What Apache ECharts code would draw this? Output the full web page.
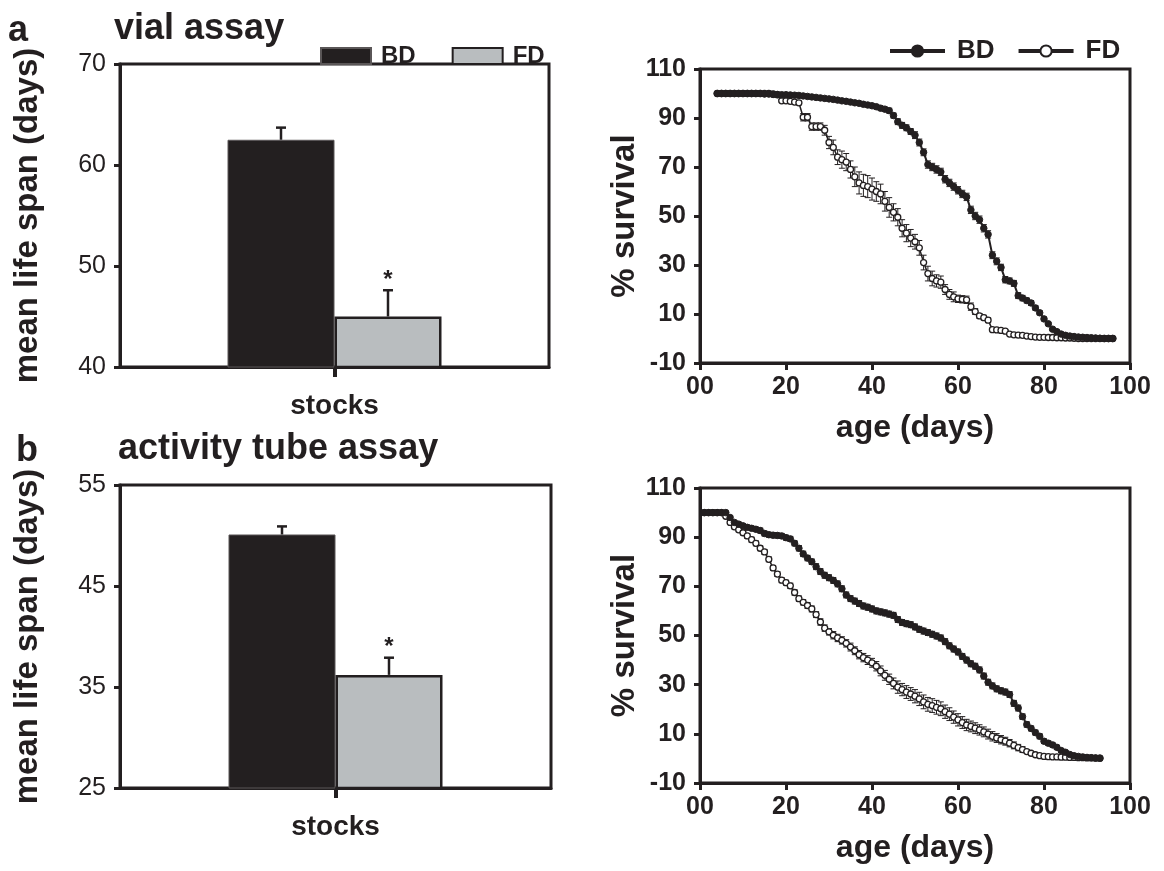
<!DOCTYPE html>
<html><head><meta charset="utf-8">
<script src="https://cdn.jsdelivr.net/npm/echarts@6/dist/echarts.min.js"></script>
<style>html,body{margin:0;padding:0;background:#fff}#c{width:1164px;height:871px}</style>
</head><body><div id="c"></div>
<script>
// ---------- data ----------
const groups = ['BD', 'FD'];
const barCategory = ['stocks'];
// panel a (vial assay) mean life span and SEM
const meanA = [62.5, 45.0];
const semA = [1.2, 2.6];
// panel b (activity tube assay)
const meanB = [50.1, 36.2];
const semB = [0.8, 1.7];
const sigA = [0, 1];
const sigB = [0, 1];

const barTicksA = [40, 50, 60, 70];
const barTicksB = [25, 35, 45, 55];
const survTicksY = [-10, 10, 30, 50, 70, 90, 110];
const survTicksX = [0, 20, 40, 60, 80, 100];

// survival curves, panel a: census days 4..96
const startA = 4, endA = 96;
const bdA = [100,100,100,100,100,100,100,100,100,100,100,
 99.8,99.8,99.6,99.6,99.5,99.5,99.4,99.3,99.2,99,
 98.8,98.6,98.4,98.2,98,97.8,97.6,97.3,97,96.8,
 96.5,96.2,96,95.6,95.3,95,94.6,94,93.6,93,
 91,88.5,87,86,84.5,83,80,76,71,70,
 69,68,65,63.5,62,60.5,59,57.8,52.5,50,
 48.5,45,42.5,34,31.5,29,24,23.5,22.5,17.5,
 16.5,15.5,14.5,12.5,10.5,8,6,3.8,2.8,1.8,
 1.3,1,0.8,0.6,0.5,0.4,0.3,0.2,0.1,0,0,0];
const fdA = [100,100,100,100,100,100,100,100,100,100,100,100,100,
 99.8,99.5,97,97,96.8,96.5,96.2,90.3,90.3,86.5,
 86.5,86.5,85,80,78,74,73,72,69,66,
 63.5,62.5,62,61,60,59,56,53.5,51.5,49.5,
 45,43,41,39.5,37,31,26.5,24.5,23.5,23,
 20,18,17,16.2,16,15.8,13,11,9.2,8.5,
 7.5,3.6,3.5,3.3,3,1.8,1.5,1.4,1.3,1,
 0.8,0.6,0.5,0.5,0.4,0.4,0.3,0.3,0.2,0.2,
 0.1,0,0,0,0,0,0,0,0,0];
const bdErrA = [0.3,0.3,0.3,0.3,0.3,0.3,0.3,0.3,0.3,0.3,0.3,0.3,0.3,0.3,0.3,0.3,0.3,0.3,0.3,0.3,
 0.4,0.4,0.4,0.4,0.4,0.5,0.5,0.5,0.5,0.5,0.6,0.6,0.6,0.6,0.7,0.7,0.7,0.8,0.8,0.8,
 1,1,1.2,1.2,1.2,1.2,1.4,1.4,1.4,1.5,1.5,1.5,1.5,1.5,1.5,1.5,1.5,1.5,1.5,1.5,
 1.5,1.5,1.5,1.5,1.4,1.4,1.3,1.3,1.2,1.2,1.2,1.1,1,1,0.9,0.8,0.7,
 0.5,0.4,0.3,0.3,0.3,0.3,0.3,0.2,0.2,0.2,0.2,0.2,0.2,0.2,0.2];
const fdErrA = [0.3,0.3,0.3,0.3,0.3,0.3,0.3,0.3,0.3,0.3,0.3,0.3,0.3,0.3,0.4,0.5,0.5,0.6,0.6,
 0.8,1.5,1.5,1.5,1.5,1.5,2,2.5,3,3,3.5,3.5,3.5,4,4.5,4.5,4.5,4.5,4,4,4,4,
 3.5,3.5,3.5,3.5,3.5,3,3,3,3,3,2.5,2.5,2,2,2,1.5,1.5,1.5,1.5,1.2,1,1,1,0.6,
 0.4,0.4,0.4,0.3,0.3,0.3,0.3,0.3,0.3,0.3,0.2,0.2,0.2,0.2,0.2,0.2,0.2,0.2,0.2,0.2,0.2,0.2,0.2,0.2,0.2,0.2,0.2,0.2];

// survival curves, panel b: census days 1..93
const startB = 1, endB = 93;
const bdB = [100,100,100,100,100,100,
 98,96,95.3,94.6,94,93.6,93.2,92.7,91.5,91,90.8,90.7,90.5,89.8,
 89.3,87.5,85.5,83.2,81.5,80,78,76,74.5,73.5,72.4,71,69,66.5,
 65,64,63,62,61.5,60.8,60,59.6,59.2,58.7,58.2,56.5,55.3,54.8,
 54.4,53.5,52.5,51.8,51.2,50.5,49.8,49,47.5,45.8,44.5,43.3,41.5,40,
 38.5,37.5,36,33.5,31,29.5,28.3,27.5,27,26,22.4,20.5,17,13.8,
 12.2,10.5,9,7,6.2,5.5,4.5,3.2,2.5,1.6,1.1,0.8,0.6,0.4,0.3,0.2,0.1];
const fdB = [100,100,100,100,100,
 98.5,96,94.2,93,91.8,90.5,89,87.5,85.5,84,81,77.5,75,72.5,71.5,
 70.2,67.5,65,63.5,62.2,60.8,58.5,55.5,53,51.5,50.1,49,48,46.8,45.3,
 43.8,42.2,41,40,38.9,37.5,35.6,33.8,32.2,30.5,29,28,27,26.2,25.3,
 24.2,23,22,21.5,20.8,20.2,19,18,16.8,15.7,14.6,13.6,13,12.3,11.6,
 10.8,9.9,9,8.3,7.6,7,6.2,5.3,4.4,3.6,2.8,2.1,1.5,1.1,0.8,
 0.7,0.6,0.6,0.5,0.5,0.4,0.4,0.3,0.3,0.2,0.2,0.1,0.1];
const bdErrB = [0.2,0.2,0.2,0.2,0.2,0.2,
 0.6,0.8,0.8,0.8,0.9,0.9,0.9,1,1,1,1,1,1,1,1,1,1.1,1.1,1.1,1.1,1.2,1.2,1.2,1.2,
 1.2,1.2,1.2,1.2,1.2,1.2,1.2,1.2,1.2,1.2,1.2,1.2,1.2,1.2,1.2,1.2,1.2,1.2,1.2,1.2,
 1.2,1.2,1.2,1.2,1.2,1.2,1.2,1.2,1.2,1.2,1.2,1.2,1.2,1.2,1.2,1.2,1.2,1.2,1.2,1.2,
 1.2,1.2,1.2,1.2,1.1,1.1,1,1,1,0.9,0.9,0.8,0.8,0.7,0.6,0.4,0.3,0.3,0.3,0.2,0.2,0.2,0.2];
const fdErrB = [0.2,0.2,0.2,0.2,0.2,0.4,0.6,0.8,0.8,0.9,
 1,1,1,1,1,1,1,1,1,1,1.1,1.1,1.1,1.1,1.2,1.2,1.2,1.3,1.3,1.3,
 1.5,1.5,1.5,1.5,1.6,1.6,1.7,1.7,1.8,1.8,1.9,2,2,2.1,2.2,
 2.5,2.5,2.6,2.6,2.7,2.7,2.8,2.8,2.8,2.8,2.8,2.7,2.6,2.5,2.5,
 2.4,2.3,2.2,2.2,2.1,2,2,1.9,1.8,1.7,1.6,1.5,1.4,1.3,1.2,
 0.8,0.6,0.5,0.4,0.3,0.3,0.3,0.2,0.2,0.2,0.2,0.2,0.2,0.2,0.2,0.2,0.2,0.2];

// ---------- helpers ----------
const INK = '#231f20';
const BAR_W = 107;
function range(a, b) { const r = []; for (let d = a; d <= b; d++) r.push(d); return r; }
const daysA = range(startA, endA);
const daysB = range(startB, endB);
const pairs = (days, vals) => days.map((d, i) => [d, vals[i]]);
const errPairs = (days, vals, errs) => days.map((d, i) => [d, vals[i] - errs[i], vals[i] + errs[i]]);

function survErr(params, api) {
  const x = api.value(0);
  const p1 = api.coord([x, api.value(1)]);
  const p2 = api.coord([x, api.value(2)]);
  const w = 3, st = { stroke: INK, lineWidth: 1 };
  return { type: 'group', children: [
    { type: 'line', shape: { x1: p1[0], y1: p1[1], x2: p2[0], y2: p2[1] }, style: st },
    { type: 'line', shape: { x1: p1[0] - w, y1: p1[1], x2: p1[0] + w, y2: p1[1] }, style: st },
    { type: 'line', shape: { x1: p2[0] - w, y1: p2[1], x2: p2[0] + w, y2: p2[1] }, style: st }
  ]};
}
function barErr(params, api) {
  const mean = api.value(1), sem = api.value(2), side = api.value(3), star = api.value(4);
  const b = api.coord([0, mean]);
  const t = api.coord([0, mean + sem]);
  const x = b[0] + side * BAR_W / 2;
  const st = { stroke: INK, lineWidth: 2.5 };
  const ch = [
    { type: 'line', shape: { x1: x, y1: b[1], x2: x, y2: t[1] }, style: st },
    { type: 'line', shape: { x1: x - 5, y1: t[1], x2: x + 5, y2: t[1] }, style: st }
  ];
  if (star) ch.push({ type: 'text', x: x, y: t[1] + 2, style: { text: '*', fill: INK, font: 'bold 24px "Liberation Sans", Arial, sans-serif', align: 'center', verticalAlign: 'bottom' } });
  return { type: 'group', children: ch };
}
const barErrData = (means, sems, sig) => means.map((m, i) => [0, m, sems[i], i === 0 ? -1 : 1, sig[i]]);

const FONT = '"Liberation Sans", Arial, sans-serif';
const gridBase = { show: true, borderColor: INK, borderWidth: 3, outerBoundsMode: 'none' };
const axisLineSt = { show: true, onZero: false, lineStyle: { color: INK, width: 3 } };

function barX(gi) {
  return { type: 'category', gridIndex: gi, data: barCategory,
    axisLine: axisLineSt,
    axisTick: { show: true, alignWithLabel: true, length: 10, lineStyle: { color: INK, width: 4 } },
    axisLabel: { color: INK, fontFamily: FONT, fontSize: 28, fontWeight: 'bold', margin: 25 } };
}
function barY(gi, ticks) {
  return { type: 'value', gridIndex: gi, min: ticks[0], max: ticks[ticks.length - 1],
    name: 'mean life span (days)', nameLocation: 'middle', nameGap: 76, nameRotate: 90,
    nameTextStyle: { color: INK, fontFamily: FONT, fontSize: 33, fontWeight: 'bold' },
    splitLine: { show: false }, axisLine: axisLineSt,
    axisTick: { show: true, length: 6, lineStyle: { color: INK, width: 3 }, customValues: ticks },
    axisLabel: { color: INK, fontFamily: FONT, fontSize: 25, margin: 14, customValues: ticks } };
}
function survX(gi) {
  return { type: 'value', gridIndex: gi, min: survTicksX[0], max: survTicksX[survTicksX.length - 1],
    name: 'age (days)', nameLocation: 'middle', nameGap: 49,
    nameTextStyle: { color: INK, fontFamily: FONT, fontSize: 32, fontWeight: 'bold' },
    splitLine: { show: false }, axisLine: axisLineSt,
    axisTick: { show: true, length: 7, lineStyle: { color: INK, width: 3 }, customValues: survTicksX },
    axisLabel: { color: INK, fontFamily: FONT, fontSize: 25, fontWeight: 'bold', margin: 12, customValues: survTicksX,
      formatter: v => (v === 0 ? '00' : String(v)) } };
}
function survY(gi) {
  return { type: 'value', gridIndex: gi, min: survTicksY[0], max: survTicksY[survTicksY.length - 1],
    name: '% survival', nameLocation: 'middle', nameGap: 58, nameRotate: 90,
    nameTextStyle: { color: INK, fontFamily: FONT, fontSize: 33, fontWeight: 'bold' },
    splitLine: { show: false }, axisLine: axisLineSt,
    axisTick: { show: true, length: 6, lineStyle: { color: INK, width: 3 }, customValues: survTicksY },
    axisLabel: { color: INK, fontFamily: FONT, fontSize: 25, fontWeight: 'bold', margin: 14, customValues: survTicksY } };
}

function barSeries(gi, means) {
  return [
    { name: 'BD', type: 'bar', xAxisIndex: gi, yAxisIndex: gi, barWidth: BAR_W, barGap: '0%',
      itemStyle: { color: INK, borderColor: '#5a5657', borderWidth: 1 }, data: [means[0]], z: 2 },
    { name: 'FD', type: 'bar', xAxisIndex: gi, yAxisIndex: gi, barWidth: BAR_W, barGap: '0%',
      itemStyle: { color: '#b9bdbf', borderColor: INK, borderWidth: 2.5 }, data: [means[1]], z: 2 }
  ];
}
function survSeries(gi, days, bd, fd, bdE, fdE) {
  return [
    { type: 'custom', xAxisIndex: gi, yAxisIndex: gi, renderItem: survErr, data: errPairs(days, fd, fdE), encode: { x: 0, y: [1, 2] }, z: 3, silent: true },
    { type: 'custom', xAxisIndex: gi, yAxisIndex: gi, renderItem: survErr, data: errPairs(days, bd, bdE), encode: { x: 0, y: [1, 2] }, z: 3, silent: true },
    { name: 'FD curve', type: 'line', xAxisIndex: gi, yAxisIndex: gi, data: pairs(days, fd), showAllSymbol: true,
      symbol: 'circle', symbolSize: 6, lineStyle: { color: INK, width: 1.5 },
      itemStyle: { color: '#ffffff', borderColor: INK, borderWidth: 1.3 }, z: 4 },
    { name: 'BD curve', type: 'line', xAxisIndex: gi, yAxisIndex: gi, data: pairs(days, bd), showAllSymbol: true,
      symbol: 'circle', symbolSize: 6.5, lineStyle: { color: INK, width: 2 },
      itemStyle: { color: INK, borderColor: INK, borderWidth: 1 }, z: 5 }
  ];
}

const chart = echarts.init(document.getElementById('c'), null, { renderer: 'canvas' });
const titleSt = { color: INK, fontFamily: FONT, fontSize: 36, fontWeight: 'bold' };
chart.setOption({
  animation: false,
  backgroundColor: '#fff',
  title: [
    { text: 'a', left: 8, top: 13, padding: 0, textStyle: titleSt },
    { text: 'vial assay', left: 114, top: 11, padding: 0, textStyle: titleSt },
    { text: 'b', left: 16, top: 433, padding: 0, textStyle: titleSt },
    { text: 'activity tube assay', left: 118, top: 431, padding: 0, textStyle: titleSt }
  ],
  legend: [
    { data: [{ name: 'BD', icon: 'rect' }, { name: 'FD', icon: 'rect' }], left: 320, top: 44, itemWidth: 50, itemHeight: 16, itemGap: 36, padding: 0,
      textStyle: { color: INK, fontFamily: FONT, fontSize: 24, fontWeight: 'bold', padding: [0, 0, 0, 5] }, selectedMode: false },
    { data: ['BD curve', 'FD curve'], left: 888, top: 38, itemWidth: 55, itemHeight: 14, itemGap: 22, padding: 0,
      formatter: n => n.replace(' curve', ''), lineStyle: { width: 4 },
      textStyle: { color: INK, fontFamily: FONT, fontSize: 26, fontWeight: 'bold', padding: [0, 0, 0, 7] }, selectedMode: false }
  ],
  grid: [
    Object.assign({ left: 120, top: 64, width: 429, height: 303 }, gridBase),
    Object.assign({ left: 700, top: 69, width: 430, height: 294 }, gridBase),
    Object.assign({ left: 120, top: 485, width: 431, height: 303 }, gridBase),
    Object.assign({ left: 700, top: 488, width: 430, height: 295 }, gridBase)
  ],
  xAxis: [barX(0), survX(1), barX(2), survX(3)],
  yAxis: [barY(0, barTicksA), survY(1), barY(2, barTicksB), survY(3)],
  series: [
    ...barSeries(0, meanA),
    { type: 'custom', xAxisIndex: 0, yAxisIndex: 0, renderItem: barErr, data: barErrData(meanA, semA, sigA), encode: { x: 0, y: 1 }, z: 3 },
    ...survSeries(1, daysA, bdA, fdA, bdErrA, fdErrA),
    ...barSeries(2, meanB),
    { type: 'custom', xAxisIndex: 2, yAxisIndex: 2, renderItem: barErr, data: barErrData(meanB, semB, sigB), encode: { x: 0, y: 1 }, z: 3 },
    ...survSeries(3, daysB, bdB, fdB, bdErrB, fdErrB)
  ]
});
</script></body></html>
